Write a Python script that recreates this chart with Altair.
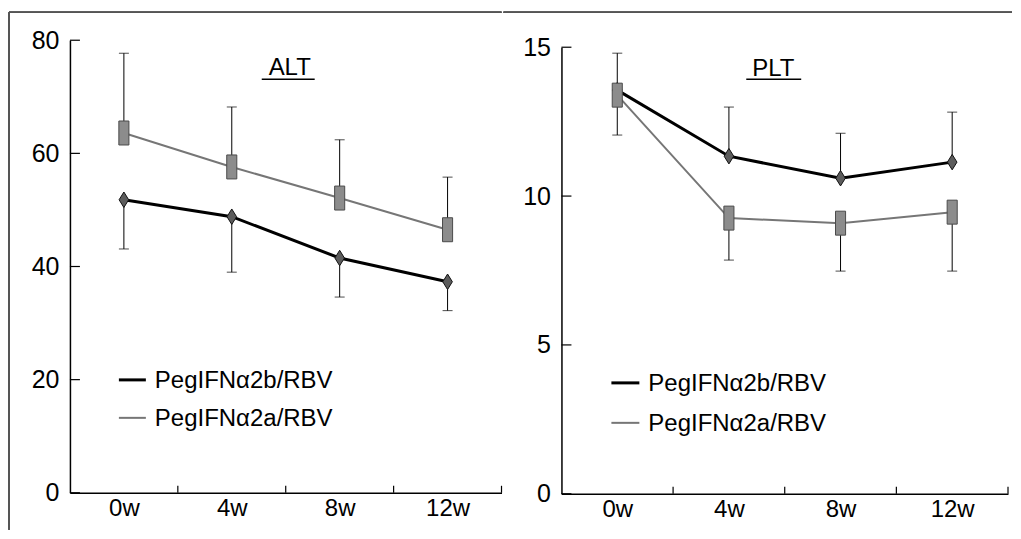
import altair as alt
import pandas as pd

# ---------------- data ----------------
weeks = [0, 4, 8, 12]
week_labels = ["0w", "4w", "8w", "12w"]
series_names = ["PegIFNα2b/RBV", "PegIFNα2a/RBV"]
panel_titles = ["ALT", "PLT"]

alt_2b = [51.8, 48.8, 41.5, 37.3]
alt_2b_err = [43.1, 39.0, 34.6, 32.2]
alt_2a = [63.6, 57.6, 52.1, 46.5]
alt_2a_err = [77.7, 68.2, 62.4, 55.8]

plt_2b = [13.56, 11.34, 10.6, 11.14]
plt_2b_err = [14.8, 12.99, 12.11, 12.82]
plt_2a = [13.39, 9.26, 9.09, 9.46]
plt_2a_err = [12.05, 7.85, 7.48, 7.48]

alt_yticks = [0, 20, 40, 60, 80]
plt_yticks = [0, 5, 10, 15]
x_boundaries = [2, 6, 10, 14]

# ---------------- style ----------------
FONT = "Liberation Sans"
FS = 24
DIAMOND = "M0,-1L0.62,0L0,1L-0.62,0Z"
RECT = "M-0.42,-1L0.42,-1L0.42,1L-0.42,1Z"
FRAME_COLOR = "#555555"

label_expr = ""
for wk, lb in zip(weeks, week_labels):
    label_expr += f"datum.value == {wk} ? '{lb}' : "
label_expr += "''"


def panel(title, b_vals, b_err, a_vals, a_err, ymax, yticks, w, h, ytop,
          frame, title_pos, legend_pos):
    df_b = pd.DataFrame({"week": weeks, "v": b_vals, "e": b_err})
    df_a = pd.DataFrame({"week": weeks, "v": a_vals, "e": a_err})

    xs = alt.Scale(domain=[-2, 14], nice=False, zero=False)
    ys = alt.Scale(domain=[0, ymax], nice=False, zero=False, range=[h, ytop])
    xaxis = alt.Axis(values=weeks, labelExpr=label_expr, ticks=False, grid=False,
                     domainColor="black", domainWidth=1.5, labelFont=FONT,
                     labelFontSize=FS, labelColor="black", labelPadding=4,
                     title=None, labelFlush=False)
    yaxis = alt.Axis(values=yticks, ticks=False, grid=False, domainColor="black",
                     domainWidth=1.5, labelFont=FONT, labelFontSize=FS + 1,
                     labelColor="black", labelPadding=11, title=None)

    def X(f):
        return alt.X(f, scale=xs, axis=xaxis)

    def Y(f):
        return alt.Y(f, scale=ys, axis=yaxis)

    layers = []
    # frame lines (figure border)
    fx1, fx2, fy, fyb, draw_left = frame
    layers.append(alt.Chart(df_b).mark_rule(color=FRAME_COLOR, strokeWidth=1.5).encode(
        x=alt.value(fx1), x2=alt.value(fx2), y=alt.value(fy)))
    if draw_left:
        layers.append(alt.Chart(df_b).mark_rule(color=FRAME_COLOR, strokeWidth=1.5).encode(
            x=alt.value(fx1), y=alt.value(fy), y2=alt.value(fyb)))

    # series 2b (black, diamonds)
    layers.append(alt.Chart(df_b).mark_line(color="black", strokeWidth=3).encode(
        x=X("week:Q"), y=Y("v:Q")))
    layers.append(alt.Chart(df_b).mark_rule(color="black", strokeWidth=1).encode(
        x=X("week:Q"), y=Y("v:Q"), y2="e:Q"))
    layers.append(alt.Chart(df_b).mark_tick(orient="horizontal", size=10, thickness=1,
                                            color="black").encode(
        x=X("week:Q"), y=Y("e:Q")))
    layers.append(alt.Chart(df_b).mark_point(shape=DIAMOND, size=240, fill="#5c5c5c",
                                             stroke="#111111", strokeWidth=1,
                                             opacity=1, fillOpacity=1).encode(
        x=X("week:Q"), y=Y("v:Q")))

    # series 2a (gray, rectangles)
    layers.append(alt.Chart(df_a).mark_line(color="#767676", strokeWidth=2).encode(
        x=X("week:Q"), y=Y("v:Q")))
    layers.append(alt.Chart(df_a).mark_rule(color="black", strokeWidth=1).encode(
        x=X("week:Q"), y=Y("v:Q"), y2="e:Q"))
    layers.append(alt.Chart(df_a).mark_tick(orient="horizontal", size=10, thickness=1,
                                            color="black").encode(
        x=X("week:Q"), y=Y("e:Q")))
    layers.append(alt.Chart(df_a).mark_point(shape=RECT, size=576, fill="#8c8c8c",
                                             stroke="#4a4a4a", strokeWidth=1,
                                             opacity=1, fillOpacity=1).encode(
        x=X("week:Q"), y=Y("v:Q")))

    # inward ticks
    yt = pd.DataFrame({"t": yticks})
    layers.append(alt.Chart(yt).mark_rule(color="black", strokeWidth=1.2).encode(
        y=Y("t:Q"), x=alt.value(0), x2=alt.value(10)))
    xt = pd.DataFrame({"b": x_boundaries})
    layers.append(alt.Chart(xt).mark_rule(color="black", strokeWidth=1.2).encode(
        x=X("b:Q"), y=alt.value(h), y2=alt.value(h - 7)))

    # panel title with underline
    tx, ty, ux1, ux2, uy = title_pos
    tdf = pd.DataFrame({"label": [title]})
    layers.append(alt.Chart(tdf).mark_text(font=FONT, fontSize=FS, color="black",
                                           align="center", baseline="middle").encode(
        text="label:N", x=alt.value(tx), y=alt.value(ty)))
    layers.append(alt.Chart(tdf).mark_rule(color="black", strokeWidth=1.5).encode(
        x=alt.value(ux1), x2=alt.value(ux2), y=alt.value(uy)))

    # legend
    lx1, lx2, ltx, ly1, ly2 = legend_pos
    for name, ly, col, sw in [(series_names[0], ly1, "black", 3),
                              (series_names[1], ly2, "#767676", 2)]:
        ldf = pd.DataFrame({"name": [name]})
        layers.append(alt.Chart(ldf).mark_rule(color=col, strokeWidth=sw).encode(
            x=alt.value(lx1), x2=alt.value(lx2), y=alt.value(ly)))
        layers.append(alt.Chart(ldf).mark_text(font=FONT, fontSize=FS, color="black",
                                               align="left", baseline="middle").encode(
            text="name:N", x=alt.value(ltx), y=alt.value(ly + 1)))

    return alt.layer(*layers).properties(width=w, height=h)


left = panel(panel_titles[0], alt_2b, alt_2b_err, alt_2a, alt_2a_err, 80, alt_yticks,
             432, 453, 0,
             frame=(-61, 432, -28, 490, True),
             title_pos=(220, 28, 192, 245, 39),
             legend_pos=(49, 76, 85, 340, 378))
right = panel(panel_titles[1], plt_2b, plt_2b_err, plt_2a, plt_2a_err, 15, plt_yticks,
              447, 454, 7,
              frame=(-58, 451, -28, 0, False),
              title_pos=(212, 29, 185, 240, 39),
              legend_pos=(50, 78, 87, 343, 383))

chart = alt.hconcat(left, right, spacing=0).properties(
    padding={"left": 0, "top": 3, "right": 0, "bottom": 0},
    background="white",
).configure_view(strokeWidth=0)

chart.save("out.html", embed_options={"renderer": "svg", "actions": False})
